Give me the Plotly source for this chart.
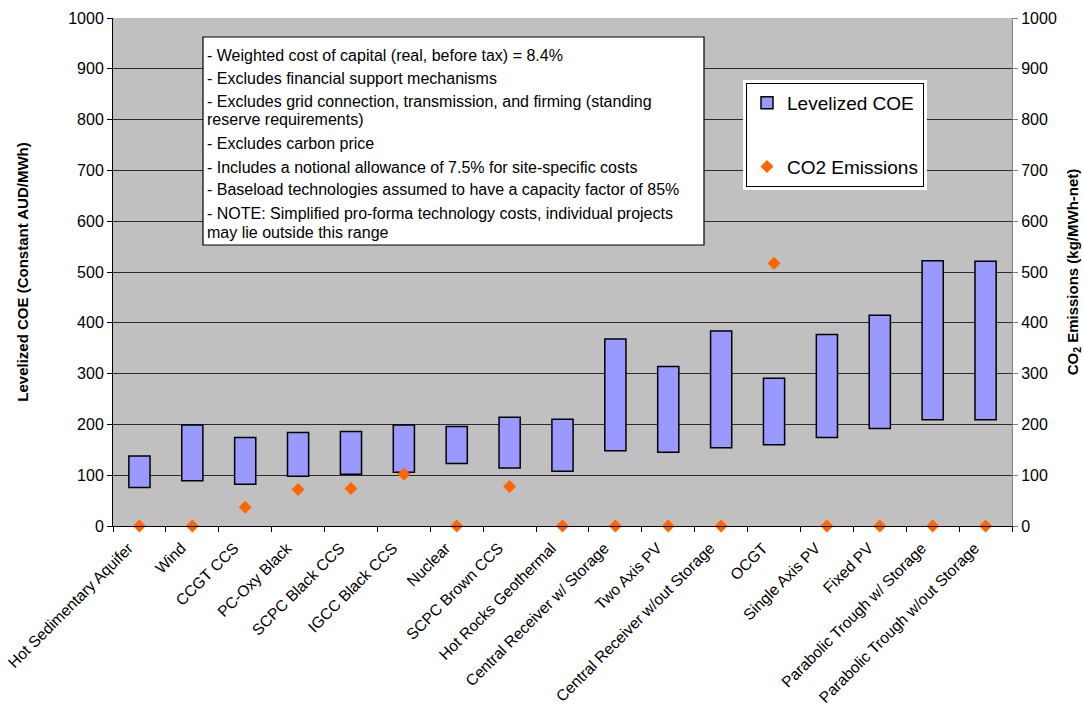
import plotly.graph_objects as go

# Technologies, in plotting order
technologies = [
    "Hot Sedimentary Aquifer", "Wind", "CCGT CCS", "PC-Oxy Black",
    "SCPC Black CCS", "IGCC Black CCS", "Nuclear", "SCPC Brown CCS",
    "Hot Rocks Geothermal", "Central Receiver w/ Storage", "Two Axis PV",
    "Central Receiver w/out Storage", "OCGT", "Single Axis PV", "Fixed PV",
    "Parabolic Trough w/ Storage", "Parabolic Trough w/out Storage",
]

# Levelized cost of electricity range (constant AUD/MWh)
coe_low = [76, 89, 82, 98, 102, 106, 123, 114, 108, 148, 145, 154, 160, 174, 192, 209, 209]
coe_high = [138, 199, 174, 184, 186, 199, 196, 214, 210, 368, 314, 384, 291, 377, 415, 522, 521]

# CO2 emissions intensity (kg/MWh-net)
co2 = [0, 0, 37, 72, 74, 102, 0, 78, 0, 0, 0, 0, 517, 0, 0, 0, 0]

axis_ticks = [0, 100, 200, 300, 400, 500, 600, 700, 800, 900, 1000]

notes = [
    "- Weighted cost of capital (real, before tax) = 8.4%",
    "- Excludes financial support mechanisms",
    "- Excludes grid connection, transmission, and firming (standing",
    "reserve requirements)",
    "- Excludes carbon price",
    "- Includes a notional allowance of 7.5% for site-specific costs",
    "- Baseload technologies assumed to have a capacity factor of 85%",
    "- NOTE: Simplified pro-forma technology costs, individual projects",
    "may lie outside this range",
]

FONT = "Arial, 'Liberation Sans', sans-serif"
W, H = 1083, 711
ML, MR, MT, MB = 113, 71, 18, 185
PW, PH = W - ML - MR, H - MT - MB


def px_x(px):
    return (px - ML) / PW


def px_y(py):
    return (H - MB - py) / PH


fig = go.Figure()

fig.add_trace(go.Bar(
    x=technologies,
    y=[h - l for h, l in zip(coe_high, coe_low)],
    base=coe_low,
    width=0.4,
    name="Levelized COE",
    legendgroup="coe",
    marker=dict(color="#9999FF", line=dict(color="#000000", width=1.5)),
))

fig.add_trace(go.Scatter(
    x=technologies,
    y=co2,
    yaxis="y2",
    mode="markers",
    name="CO2 Emissions",
    legendgroup="co2",
    cliponaxis=False,
    marker=dict(symbol="diamond", size=10, color="#FF6600", line=dict(width=0)),
))

# Notes box
fig.add_shape(type="rect", xref="paper", yref="paper",
              x0=px_x(203), x1=px_x(704), y0=px_y(245), y1=px_y(37),
              fillcolor="white", line=dict(color="black", width=1.2), layer="above")

note_rows = [55.5, 78.5, 101.5, 120, 143.5, 167, 190, 213, 232]
for txt, row in zip(notes, note_rows):
    fig.add_annotation(
        text=txt, xref="paper", yref="paper", x=px_x(205), y=px_y(row),
        xanchor="left", yanchor="middle", showarrow=False,
        font=dict(family=FONT, size=16, color="black"),
    )

# White frame around the legend
fig.add_shape(type="rect", xref="paper", yref="paper",
              x0=px_x(743), x1=px_x(927), y0=px_y(190), y1=px_y(80),
              fillcolor="white", line=dict(width=0), layer="above")

fig.update_layout(
    width=W, height=H,
    margin=dict(l=ML, r=MR, t=MT, b=MB, autoexpand=False),
    paper_bgcolor="white",
    plot_bgcolor="#C0C0C0",
    font=dict(family=FONT, size=16, color="black"),
    bargap=0.6,
    showlegend=True,
    legend=dict(
        x=px_x(746), y=px_y(83), xanchor="left", yanchor="top",
        bgcolor="white", bordercolor="black", borderwidth=1,
        font=dict(family=FONT, size=19, color="black"),
        tracegroupgap=36, traceorder="grouped",
        itemwidth=30,
    ),
    xaxis=dict(
        type="category", range=[-0.5, len(technologies) - 0.5],
        tickangle=-45, tickson="boundaries", ticks="outside", ticklen=5,
        tickcolor="black", showline=True, linecolor="black", linewidth=1,
        showgrid=False, tickfont=dict(size=15.6), mirror=False,
        ticklabelshift=-11, ticklabelstandoff=6, automargin=False,
    ),
    yaxis=dict(
        range=[0, 1000], tickvals=axis_ticks, ticks="outside", ticklen=5,
        tickcolor="black", showline=True, linecolor="black", linewidth=1,
        showgrid=True, gridcolor="#2b2b2b", gridwidth=1, zeroline=False,
        tickfont=dict(size=16), automargin=False,
        title=dict(text="<b>Levelized COE (Constant AUD/MWh)</b>",
                   font=dict(size=15), standoff=35),
    ),
    yaxis2=dict(
        range=[0, 1000], tickvals=axis_ticks, overlaying="y", side="right",
        ticks="outside", ticklen=5, tickcolor="#808080", showline=True,
        linecolor="#808080", linewidth=1, showgrid=False, zeroline=False,
        tickfont=dict(size=16), automargin=False,
        title=dict(text="<b>CO<sub>2</sub> Emissions (kg/MWh-net)</b>",
                   font=dict(size=15), standoff=19),
    ),
)

fig.write_html("out.html")
